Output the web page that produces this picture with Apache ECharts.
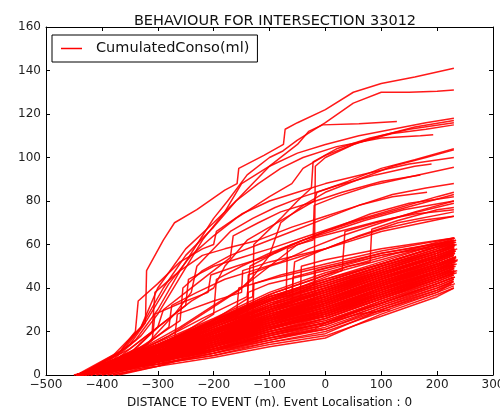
<!DOCTYPE html>
<html>
<head>
<meta charset="utf-8">
<script src="https://cdn.jsdelivr.net/npm/echarts@6/dist/echarts.min.js"></script>
<style>
html,body{margin:0;padding:0;background:#fff;}
#chart{width:500px;height:410px;}
</style>
</head>
<body>
<div id="chart"></div>
<script>
// ticks
var xTicks = [-500, -400, -300, -200, -100, 0, 100, 200, 300];
var yTicks = [0, 20, 40, 60, 80, 100, 120, 140, 160];

// dense bundle : start x (y=0), y at bulkX, then end point
var bulkX = [-300, -200, -100, 0, 100, 200];
var bulkStart = [-445,-440,-435,-450,-440,-430,-445,-440,-425,-445,-440,-435,-445,-440,-420,-445,-440,-435,-445,-440,-430,-445,-440,-425,-445,-440,-435,-445,-440,-410,-380,-400,-370,-390,-445,-440,-430,-445,-440,-435,-445,-400,-445,-440,
  -445,-440,-435,-450,-440,-430,-445,-440,-435,-445,-440,-425,-445,-440,-420,-410,-400,-390,-380,-445,-440,-435,-445,-440,-430,-445,-440,-435,-445,-440,-430,-445,-440,-435,-445,-440,-430,-445,-440,
  -445,-440,-435,-445,-440,-430,-445,-440,-435,-445,-420,-445,-440,-435,-445,-440,-430,-445,-440,-445];
var bulkRows = [
  [5,9,15,19,30,38],[6,11,16,22,31,40],[6,12,18,24,33,42],[7,13,19,25,34,43],
  [7,13,20,26,35,44],[7,14,21,27,36,45],[8,14,22,28,37,46],[8,15,22,29,38,47],
  [8,15,23,30,39,47],[9,16,23,30,39,48],[9,16,24,31,40,48],[9,17,25,32,41,49],
  [10,17,25,32,41,50],[10,18,26,33,42,50],[8,17,26,34,43,51],[10,18,27,34,43,51],
  [11,19,27,35,44,52],[11,19,28,36,45,53],[11,20,29,36,45,53],[12,20,29,37,46,54],
  [11,21,30,38,47,55],[12,21,31,38,47,55],[12,22,31,39,48,56],[11,22,32,40,49,57],
  [13,23,33,41,50,57],[13,23,34,42,50,58],[13,24,35,43,51,59],[14,24,36,44,52,60],
  [14,25,37,46,53,60],[6,14,22,27,35,44],[5,13,21,28,37,45],[7,15,24,31,40,49],
  [4,11,19,24,33,42],[6,14,23,29,38,46],[4,8,13,17,28,37],[5,10,15,20,29,38],
  [9,17,28,35,44,52],[10,19,30,38,46,54],[12,22,33,40,48,56],[8,16,24,33,42,50],
  [7,15,23,31,40,48],[8,16,26,35,44,53],[9,18,27,36,45,53],[11,20,30,39,47,55],
  [5,10,17,23,32,41],[6,12,19,26,35,43],[7,13,21,28,36,45],[8,15,23,30,38,46],
  [9,16,25,31,40,47],[8,15,24,32,41,49],[10,18,26,33,42,51],[10,19,28,35,43,52],
  [11,20,29,37,45,53],[12,21,30,38,46,54],[12,22,32,40,48,56],[12,23,34,41,49,57],
  [13,24,35,42,50,58],[14,25,36,43,51,59],[10,19,27,34,44,53],[8,16,25,33,42,50],
  [7,15,23,30,39,48],[6,14,22,29,38,47],[4,12,20,26,35,44],[5,9,14,18,27,36],
  [6,11,17,21,30,39],[6,12,18,23,32,40],[7,14,20,25,33,41],[8,15,22,27,36,44],
  [9,17,24,29,39,47],[10,18,26,32,41,49],[11,20,28,34,43,51],[12,21,30,36,45,53],
  [13,23,32,39,47,55],[14,24,34,41,49,57],[13,25,36,44,51,59],[15,26,38,47,54,61],
  [9,17,26,34,42,50],[10,17,27,35,44,52],[7,13,22,29,37,46],[11,19,29,37,46,55],
  [8,16,23,30,40,48],[12,22,31,39,47,54],[6,13,21,28,37,45],
  [6,11,18,24,33,42],[7,13,20,27,36,44],[8,14,22,29,37,46],[9,16,24,31,39,48],
  [10,17,25,33,41,50],[10,18,27,34,43,51],[11,19,28,36,45,53],[12,21,30,38,47,55],
  [13,22,32,40,48,56],[13,24,34,42,50,58],[9,17,25,32,41,49],[5,10,16,21,31,39],
  [7,12,19,24,34,42],[8,15,22,28,38,46],[10,18,26,33,42,51],[11,20,29,37,46,54],
  [12,22,31,39,48,57],[14,25,35,43,51,59],[8,14,21,28,36,45],[9,17,26,33,42,50]
];
var bulkEnd = [
  [230,41],[228,43],[232,45],[230,46],[235,47],[226,48],[230,49],[233,50],
  [229,50.5],[231,51],[230,52],[236,52.5],[228,53],[232,53.5],[230,54],[234,54.5],
  [229,55],[231,56],[227,56],[233,57],[230,57.5],[236,58],[230,58.5],[228,59],
  [232,59.5],[230,60],[234,61],[230,62],[232,63],[230,47],[230,48],[235,51],
  [231,45],[229,49],[230,40],[226,42],[229,55],[231,57],[230,59],[233,53],
  [230,51],[232,57],[228,56],[230,58],
  [230,44],[229,46],[233,48],[230,49],[231,50],[228,52],[234,54],[230,55],
  [232,56],[229,57],[231,59],[235,60],[230,61],[233,62],[230,56],[232,53],
  [229,51],[230,50],[231,47],[230,40],[232,42],[228,43],[230,44],[231,47],
  [229,50],[233,52],[230,54],[232,56],[231,58],[229,60],[234,62],[230,63],
  [237,53],[230,55],[226,48],[231,58],[230,51],[233,57],[230,48],
  [231,45],[230,47],[229,49],[232,51],[230,53],[233,54],[230,56],[231,58],
  [229,59],[232,61],[230,52],[230,43],[228,45],[231,49],[234,54],[230,57],
  [232,60],[230,62],[236,48],[230,53]
];

// lines with jumps / upper curves, [x, y] points
var stepLines = [
  [[-445,0],[-300,6],[-200,12],[-100,17],[-20,21],[0,24],[60,28],[116,30]],
  [[-440,0],[-300,9],[-200,18],[-140,24],[-138,38],[-100,42],[0,48],[100,55],[230,61]],
  [[-435,0],[-300,10],[-200,19],[-130,26],[-128,42],[-80,46],[0,51],[100,57],[230,63]],
  [[-445,0],[-300,8],[-200,16],[-120,23],[-60,29],[-58,45],[0,49],[100,55],[230,60]],
  [[-430,0],[-300,11],[-200,20],[-100,30],[-45,35],[-43,50],[0,53],[100,58],[230,63]],
  [[-440,0],[-300,9],[-200,17],[-100,27],[-20,33],[-18,48],[30,51],[100,56],[230,62]],
  [[-445,0],[-330,8],[-270,16],[-265,28],[-200,34],[-150,38],[-148,48],[-100,52],[0,58],[100,66],[230,73]],
  [[-440,0],[-300,10],[-220,18],[-160,25],[-155,40],[-100,44],[0,50],[100,56],[220,61]]
];
var midLines = [
  [[-440,0],[-360,8],[-300,18],[-260,25],[-255,40],[-220,48],[-170,55],[-120,60],[-60,66],[0,72],[60,78],[120,83],[180,86],[230,88]],
  [[-430,0],[-330,10],[-250,20],[-200,28],[-195,44],[-150,50],[-100,56],[-40,62],[20,68],[80,74],[150,79],[230,82]],
  [[-445,0],[-350,9],[-280,18],[-220,26],[-140,36],[-135,50],[-90,56],[-40,62],[10,66],[70,71],[140,76],[230,80]],
  [[-420,0],[-320,10],[-240,19],[-160,28],[-100,34],[-60,38],[-55,52],[-10,57],[40,62],[100,67],[170,71],[230,73]],
  [[-440,0],[-340,9],[-260,18],[-180,27],[-100,35],[-30,42],[30,48],[35,66],[90,70],[150,74],[230,79]],
  [[-430,0],[-320,11],[-240,21],[-160,30],[-90,38],[-20,44],[40,50],[80,52],[83,67],[130,71],[200,76],[230,77]],
  [[-440,0],[-370,8],[-310,20],[-305,38],[-260,48],[-220,55],[-180,58],[-120,62],[-60,68],[0,73],[60,78],[120,82],[182,84]],
  [[-440,0],[-350,12],[-290,24],[-250,32],[-245,44],[-200,50],[-150,54],[-100,58],[-30,64],[40,70],[120,76],[200,82],[230,84]],
  [[-440,0],[-330,10],[-250,18],[-170,26],[-120,32],[-70,38],[-68,58],[-20,63],[40,67],[100,71],[160,74],[230,76]],
  [[-430,0],[-340,9],[-260,17],[-190,24],[-140,30],[-138,46],[-100,50],[-50,54],[0,58],[60,64],[130,70],[230,75]],
  [[-440,0],[-320,14],[-280,22],[-275,32],[-230,38],[-180,44],[-130,48],[-80,52],[-30,58],[30,64],[100,70],[160,75],[230,80]],
  [[-445,0],[-340,10],[-310,16],[-305,28],[-260,33],[-210,38],[-205,46],[-160,50],[-110,54],[-60,60],[0,66],[60,71],[130,76],[230,83]]
];
var upperLines = [
  [[-440,0],[-350,10],[-300,22],[-240,34],[-200,40],[-180,50],[-140,62],[-100,68],[-60,74],[-20,80],[-15,84],[40,89],[100,95],[160,99],[230,104]],
  [[-430,0],[-330,12],[-260,22],[-200,32],[-150,40],[-130,45],[-100,55],[-80,70],[-40,78],[0,84],[60,90],[120,96],[180,100],[230,103.5]],
  [[-440,0],[-340,10],[-280,18],[-220,28],[-160,38],[-100,50],[-50,60],[-22,62],[-20,78],[20,82],[80,87],[150,91],[230,95.5]],
  [[-420,0],[-320,14],[-270,28],[-240,38],[-230,50],[-200,58],[-170,66],[-130,72],[-90,77],[-40,82],[20,87],[90,92],[160,96],[190,97]],
  [[-440,0],[-370,10],[-340,20],[-335,34],[-300,42],[-260,52],[-220,58],[-200,60],[-195,66],[-150,74],[-100,80],[-50,84],[0,88],[80,93],[150,97],[230,100]],
  [[-430,0],[-340,12],[-300,22],[-290,30],[-250,38],[-210,46],[-170,54],[-165,64],[-120,70],[-80,75],[-30,79],[30,84],[100,89],[170,92]],
  [[-440,0],[-380,7],[-330,18],[-300,28],[-260,45],[-220,62],[-180,75],[-150,88],[-100,96],[-50,102],[0,106],[60,110],[120,113],[180,116],[230,118]],
  [[-430,0],[-300,10],[-200,20],[-100,32],[-30,40],[-20,42],[-18,96],[0,100],[50,106],[100,110],[160,114],[230,117]],
  [[-420,0],[-300,12],[-220,22],[-140,35],[-130,36],[-128,60],[-80,72],[-50,80],[-25,86],[-22,98],[20,104],[80,109],[150,113],[230,116]],
  [[-440,0],[-370,10],[-330,22],[-300,40],[-250,58],[-200,70],[-160,80],[-120,88],[-80,95],[-40,100],[20,105],[100,109],[170,110],[193,110.5]],
  [[-445,0],[-360,12],[-320,25],[-280,42],[-240,55],[-200,64],[-160,72],[-100,82],[-60,88],[-40,95],[0,101],[60,107],[120,111],[180,113],[230,115]],
  [[-440,0],[-380,9],[-330,22],[-290,40],[-250,55],[-200,68],[-160,80],[-130,88],[-100,96],[-50,106],[-30,112],[-5,115],[60,115.5],[128,116.5]],
  [[-440,0],[-390,6],[-340,16],[-300,30],[-260,48],[-230,60],[-200,72],[-175,80],[-140,92],[-100,100],[-76,103],[-50,108],[0,116],[50,125],[100,130],[150,130],[200,130.5],[230,131]],
  [[-445,0],[-400,5],[-350,14],[-322,24],[-320,48],[-290,62],[-270,70],[-230,76],[-180,85],[-158,88],[-155,95],[-110,101],[-75,106],[-72,113],[-50,116],[0,122],[50,130],[100,134],[160,137],[230,141]]
];

var seriesName = 'CumulatedConso(ml)';

var allLines = [];
for (var i = 0; i < bulkRows.length; i++) {
  var pts = [[bulkStart[i], 0]];
  for (var j = 0; j < bulkX.length; j++) {
    pts.push([bulkX[j], bulkRows[i][j]]);
  }
  pts.push(bulkEnd[i]);
  allLines.push(pts);
}
allLines = allLines.concat(stepLines, midLines, upperLines);

var series = allLines.map(function (pts) {
  return {
    name: seriesName,
    type: 'line',
    data: pts,
    showSymbol: false,
    symbol: 'none',
    silent: true,
    lineStyle: { color: '#ff0000', width: 1.5, opacity: 0.9 },
    itemStyle: { color: '#ff0000' }
  };
});

var minus = function (v) { return String(v).replace('-', '\u2212'); };
var axisFont = { fontFamily: 'DejaVu Sans', fontSize: 12, color: '#222' };
var frame = { show: true, onZero: false, lineStyle: { color: '#000', width: 1 } };
var tick = { show: true, inside: true, length: 4, lineStyle: { color: '#000' } };

var chart = echarts.init(document.getElementById('chart'), null, { renderer: 'canvas' });
var option = {
  animation: false,
  backgroundColor: '#fff',
  title: {
    text: 'BEHAVIOUR FOR INTERSECTION 33012',
    left: 270,
    top: 9,
    textAlign: 'center',
    textStyle: { fontFamily: 'DejaVu Sans', fontSize: 14.5, fontWeight: 'normal', color: '#111' }
  },
  legend: {
    data: [seriesName],
    left: 52,
    top: 35,
    padding: [6, 8, 6, 9],
    borderColor: '#000',
    borderWidth: 1,
    backgroundColor: '#fff',
    icon: 'rect',
    itemWidth: 21,
    itemHeight: 1.5,
    textStyle: { fontFamily: 'DejaVu Sans', fontSize: 14.5, color: '#111', padding: [0, 0, 0, 9] }
  },
  grid: { left: 46, right: 7, top: 27, bottom: 35, outerBoundsMode: 'none', containLabel: false },
  xAxis: [{
    type: 'value',
    min: xTicks[0], max: xTicks[xTicks.length - 1], interval: 100,
    name: 'DISTANCE TO EVENT (m). Event Localisation : 0',
    nameLocation: 'middle',
    nameGap: 22,
    nameTextStyle: { fontFamily: 'DejaVu Sans', fontSize: 12, color: '#111' },
    axisLine: frame,
    axisTick: tick,
    axisLabel: Object.assign({ margin: 4, formatter: minus }, axisFont),
    splitLine: { show: false }
  }, {
    type: 'value', position: 'top',
    min: xTicks[0], max: xTicks[xTicks.length - 1], interval: 100,
    axisLine: frame,
    axisTick: tick,
    axisLabel: { show: false },
    splitLine: { show: false }
  }],
  yAxis: [{
    type: 'value',
    min: yTicks[0], max: yTicks[yTicks.length - 1], interval: 20,
    axisLine: frame,
    axisTick: tick,
    axisLabel: Object.assign({ margin: 5 }, axisFont),
    splitLine: { show: false }
  }, {
    type: 'value', position: 'right',
    min: yTicks[0], max: yTicks[yTicks.length - 1], interval: 20,
    axisLine: frame,
    axisTick: tick,
    axisLabel: { show: false },
    splitLine: { show: false }
  }],
  series: series
};
chart.setOption(option);
</script>
</body>
</html>
